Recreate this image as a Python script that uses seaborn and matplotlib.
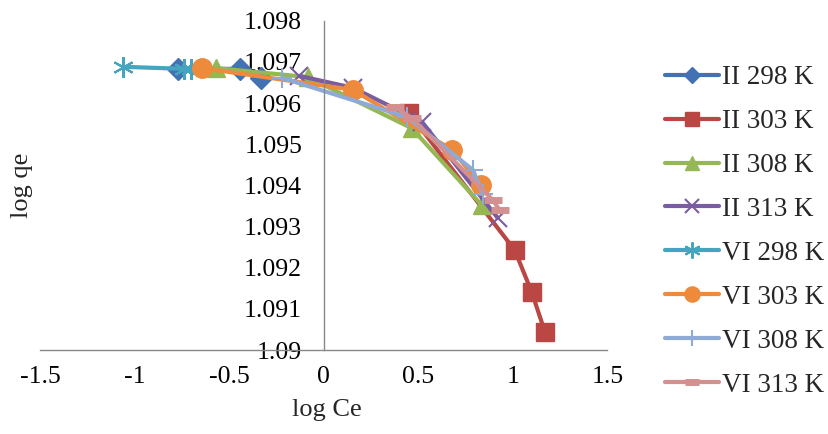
import numpy as np
import pandas as pd
import matplotlib
matplotlib.use("Agg")
import matplotlib.pyplot as plt
import seaborn as sns

# значения (log Ce, log qe)
series_names = ["II 298 K", "II 303 K", "II 308 K", "II 313 K",
                "VI 298 K", "VI 303 K", "VI 308 K", "VI 313 K"]

ii298_x = [-0.77, -0.44, -0.33]
ii298_y = [1.09683, 1.09683, 1.09660]
ii303_x = [0.45, 1.01, 1.10, 1.17]
ii303_y = [1.09576, 1.09243, 1.09141, 1.09044]
ii308_x = [-0.57, -0.085, 0.465, 0.836]
ii308_y = [1.09685, 1.09663, 1.09539, 1.09352]
ii313_x = [-0.13, 0.155, 0.52, 0.92]
ii313_y = [1.09666, 1.09637, 1.09554, 1.09321]
vi298_x = [-1.06, -0.74, -0.70]
vi298_y = [1.09688, 1.09683, 1.09683]
vi303_x = [-0.645, 0.155, 0.68, 0.83]
vi303_y = [1.09685, 1.09632, 1.09486, 1.09401]
vi308_x = [-0.22, 0.44, 0.79, 0.84]
vi308_y = [1.09661, 1.09566, 1.09437, 1.09380]
vi313_x = [0.375, 0.465, 0.895, 0.93]
vi313_y = [1.09590, 1.09564, 1.09364, 1.09340]

all_x = [ii298_x, ii303_x, ii308_x, ii313_x, vi298_x, vi303_x, vi308_x, vi313_x]
all_y = [ii298_y, ii303_y, ii308_y, ii313_y, vi298_y, vi303_y, vi308_y, vi313_y]

x_ticks = [-1.5, -1, -0.5, 0, 0.5, 1, 1.5]
y_ticks = [1.090, 1.091, 1.092, 1.093, 1.094, 1.095, 1.096, 1.097, 1.098]

colors = ["#4372B4", "#BA4744", "#95B754", "#7A5DA0",
          "#45A5BF", "#EE8A3B", "#8FAAD6", "#D48F90"]
asterisk = (6, 2, 0)
markers = ["D", "s", "^", "x", asterisk, "o", "+", "_"]
msizes = [11, 13, 13, 13, 15, 14, 14, 13]
medges = [1, 1, 1, 1.5, 1.5, 1, 1.5, 5]

rows = []
for name, xs, ys in zip(series_names, all_x, all_y):
    for xv, yv in zip(xs, ys):
        rows.append({"series": name, "logCe": xv, "logqe": yv})
df = pd.DataFrame(rows)

sns.set_theme(style="white")
plt.rcParams['font.family'] = ['Liberation Serif', 'DejaVu Serif']
plt.rcParams['axes.unicode_minus'] = False

fig = plt.figure(figsize=(8.29, 4.34), dpi=100)
ax = fig.add_axes([0.0483, 0.1935, 0.6843, 0.7588])

for i, name in enumerate(series_names):
    sub = df[df["series"] == name]
    sns.lineplot(data=sub, x="logCe", y="logqe", ax=ax, sort=False,
                 color=colors[i], marker=markers[i], markersize=msizes[i],
                 markeredgecolor=colors[i], markeredgewidth=medges[i],
                 linewidth=3, label=name)

ax.set_xlim(-1.5, 1.5)
ax.set_ylim(1.090, 1.098)
ax.set_xticks(x_ticks)
ax.set_xticklabels([f"{v:g}" for v in x_ticks])
ax.set_yticks(y_ticks)
ax.set_yticklabels([f"{v:g}" for v in y_ticks])

for s in ["top", "right"]:
    ax.spines[s].set_visible(False)
ax.spines["left"].set_position(("data", 0))
for s in ["left", "bottom"]:
    ax.spines[s].set_color("#888888")
    ax.spines[s].set_linewidth(1.0)
ax.tick_params(axis="both", direction="out", length=6.5, width=1.0,
               color="#888888", labelsize=18.5, labelcolor="black")
ax.tick_params(axis="y", pad=9)
ax.tick_params(axis="x", pad=5)
ax.grid(False)

ax.set_xlabel("log Ce", fontsize=19)
ax.set_ylabel("log qe", fontsize=19)
ax.xaxis.set_label_coords(0.505, -0.15)
ax.yaxis.set_label_coords(-0.012, 0.5)

ax.legend(loc="upper left", bbox_to_anchor=(0.802, 0.85),
          bbox_transform=fig.transFigure, frameon=False, fontsize=19.5,
          handlelength=2.0, handletextpad=0.1, labelspacing=0.7,
          borderaxespad=0, borderpad=0, markerscale=0.78)

fig.savefig("out.png", dpi=100)
